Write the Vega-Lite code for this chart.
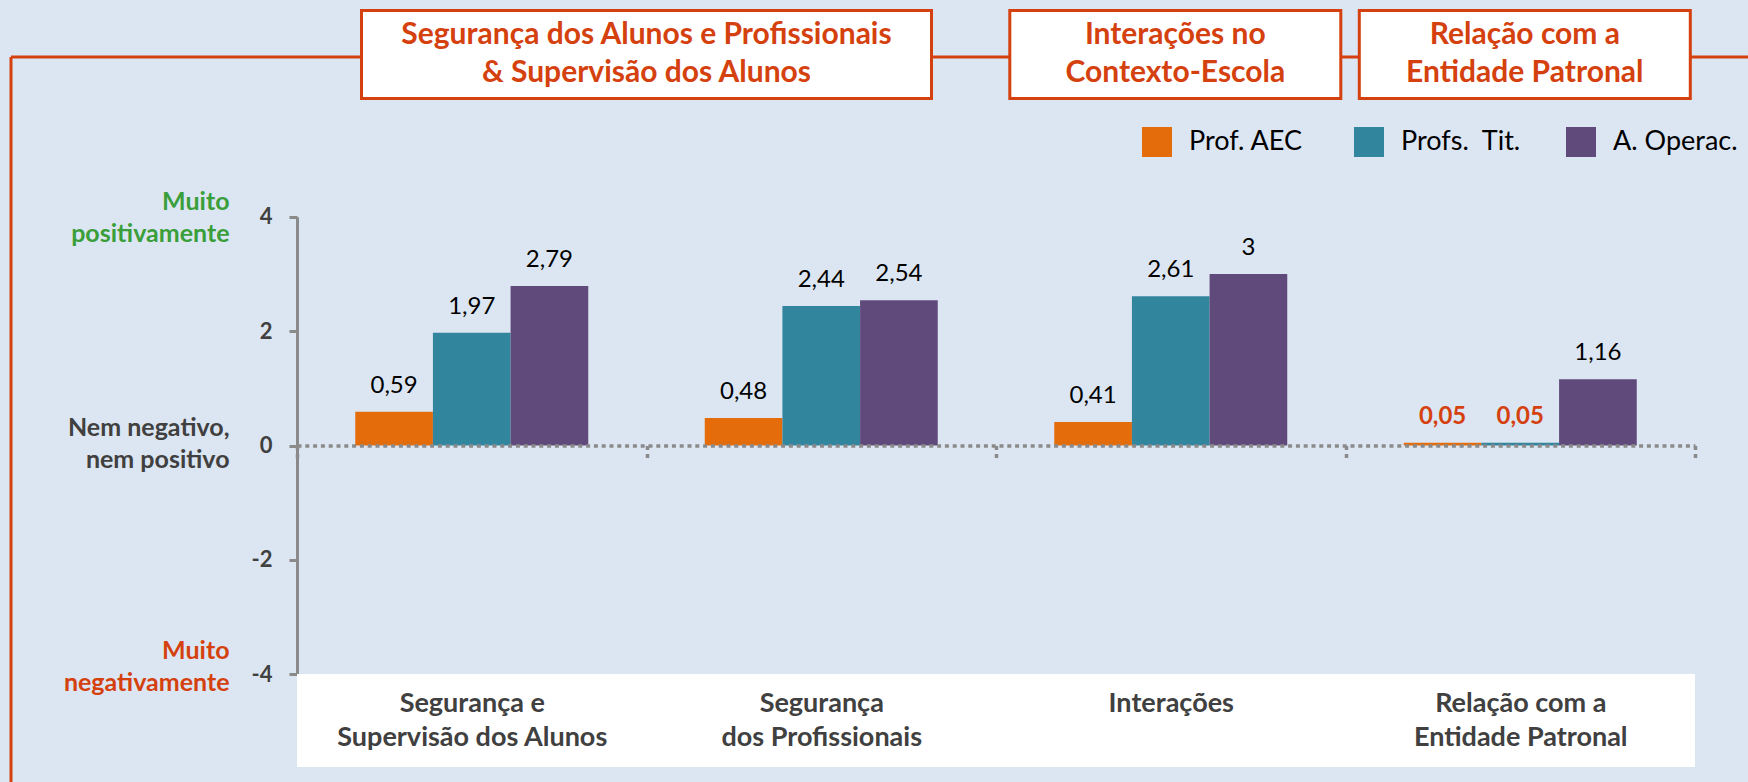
{
  "$schema": "https://vega.github.io/schema/vega-lite/v6.json",
  "width": 1737,
  "height": 725,
  "autosize": {"type": "none"},
  "padding": {"left": 11, "top": 57, "right": 0, "bottom": 0},
  "background": "#DCE6F2",
  "config": {
    "view": {"stroke": "#D5410E", "strokeWidth": 3, "strokeDash": [1737, 2462, 725, 0]},
    "locale": {"number": {"decimal": ",", "thousands": ".", "grouping": [3], "currency": ["", " €"], "minus": "-"}},
    "font": "Lato"
  },
  "datasets": {
    "main": [
      {"cat": "Segurança e\nSupervisão dos Alunos", "series": "Prof. AEC", "value": 0.59},
      {"cat": "Segurança e\nSupervisão dos Alunos", "series": "Profs.  Tit.", "value": 1.97},
      {"cat": "Segurança e\nSupervisão dos Alunos", "series": "A. Operac.", "value": 2.79},
      {"cat": "Segurança\ndos Profissionais", "series": "Prof. AEC", "value": 0.48},
      {"cat": "Segurança\ndos Profissionais", "series": "Profs.  Tit.", "value": 2.44},
      {"cat": "Segurança\ndos Profissionais", "series": "A. Operac.", "value": 2.54},
      {"cat": "Interações", "series": "Prof. AEC", "value": 0.41},
      {"cat": "Interações", "series": "Profs.  Tit.", "value": 2.61},
      {"cat": "Interações", "series": "A. Operac.", "value": 3},
      {"cat": "Relação com a\nEntidade Patronal", "series": "Prof. AEC", "value": 0.05},
      {"cat": "Relação com a\nEntidade Patronal", "series": "Profs.  Tit.", "value": 0.05},
      {"cat": "Relação com a\nEntidade Patronal", "series": "A. Operac.", "value": 1.16}
    ],
    "headers": [
      {"header": "Segurança dos Alunos e Profissionais\n& Supervisão dos Alunos", "anchor": "Segurança\ndos Profissionais", "span": "wide"},
      {"header": "Interações no\nContexto-Escola", "anchor": "Interações", "span": "single"},
      {"header": "Relação com a\nEntidade Patronal", "anchor": "Relação com a\nEntidade Patronal", "span": "single"}
    ]
  },
  "data": {"name": "main"},
  "resolve": {"axis": {"y": "independent"}},
  "layer": [
    {
      "mark": {"type": "rect", "fill": "#FFFFFF"},
      "encoding": {
        "x": {"field": "cat", "type": "nominal", "sort": null,
          "scale": {"domain": ["Segurança e\nSupervisão dos Alunos", "Segurança\ndos Profissionais", "Interações", "Relação com a\nEntidade Patronal"], "range": [286, 1684], "paddingInner": 0, "paddingOuter": 0},
          "axis": {"orient": "bottom", "offset": -336.5, "title": null, "labelExpr": "split(datum.label, '\\n')", "tickBand": "extent",
            "domainColor": "#8A8A8A", "domainWidth": 3.5, "domainDash": [4, 3.8], "tickColor": "#8A8A8A", "tickWidth": 3.5, "tickDash": [4, 4], "tickSize": 12,
            "labelPadding": 233, "labelAngle": 0, "labelFont": "Lato", "labelFontWeight": "bold", "labelFontSize": 27, "labelColor": "#404040",
            "labelLineHeight": 34, "labelBaseline": "top", "labelLimit": 500, "zindex": 1, "grid": false}},
        "y": {"datum": -4, "type": "quantitative", "axis": null, "scale": {"domain": [-4, 4], "range": [617.3, 159.7], "nice": false}},
        "y2": {"datum": -5.62}
      }
    },
    {
      "mark": {"type": "bar"},
      "encoding": {
        "x": {"field": "cat", "type": "nominal", "sort": null,
          "scale": {"domain": ["Segurança e\nSupervisão dos Alunos", "Segurança\ndos Profissionais", "Interações", "Relação com a\nEntidade Patronal"], "range": [286, 1684], "paddingInner": 0, "paddingOuter": 0}},
        "xOffset": {"field": "series", "type": "nominal", "sort": null, "scale": {"domain": ["Prof. AEC", "Profs.  Tit.", "A. Operac."], "paddingInner": 0, "paddingOuter": 0.75}},
        "y": {"field": "value", "type": "quantitative", "scale": {"domain": [-4, 4], "range": [617.3, 159.7], "nice": false},
          "axis": {"orient": "left", "offset": -286, "values": [-4, -2, 0, 2, 4], "format": "d", "title": null, "grid": false,
            "domainColor": "#8A8A8A", "domainWidth": 3, "tickColor": "#8A8A8A", "tickWidth": 3, "tickSize": 8, "labelPadding": 17,
            "labelFont": "Lato", "labelFontWeight": "bold", "labelFontSize": 22, "labelColor": "#404040", "labelBaseline": "middle"}},
        "color": {"field": "series", "type": "nominal", "sort": null,
          "scale": {"domain": ["Prof. AEC", "Profs.  Tit.", "A. Operac."], "range": ["#E46C0A", "#31859C", "#604A7B"]},
          "legend": {"orient": "none", "legendX": 1131, "legendY": 70, "direction": "horizontal", "title": null, "symbolType": "square",
            "symbolSize": 900, "symbolStrokeWidth": 0, "symbolOpacity": 1, "labelFontSize": 27, "labelFont": "Lato", "labelColor": "#000000",
            "labelOffset": 17, "columnPadding": 40, "gridAlign": "all", "padding": 0, "labelExpr": "replace(datum.label, '  ', '\u00a0 ')"}}
      }
    },
    {
      "transform": [{"filter": "datum.value >= 0.1"}],
      "mark": {"type": "text", "baseline": "alphabetic", "dy": -19, "fontSize": 24, "color": "#000000", "font": "Lato"},
      "encoding": {
        "x": {"field": "cat", "type": "nominal", "sort": null,
          "scale": {"domain": ["Segurança e\nSupervisão dos Alunos", "Segurança\ndos Profissionais", "Interações", "Relação com a\nEntidade Patronal"], "range": [286, 1684], "paddingInner": 0, "paddingOuter": 0}},
        "xOffset": {"field": "series", "type": "nominal", "sort": null, "scale": {"domain": ["Prof. AEC", "Profs.  Tit.", "A. Operac."], "paddingInner": 0, "paddingOuter": 0.75}},
        "y": {"field": "value", "type": "quantitative", "scale": {"domain": [-4, 4], "range": [617.3, 159.7], "nice": false},
          "axis": {"orient": "left", "offset": -286, "values": [-4, 0, 4], "title": null, "grid": false, "domain": false, "ticks": false, "tickSize": 0,
            "labelExpr": "datum.value > 0 ? ['Muito', 'positivamente'] : datum.value < 0 ? ['Muito', 'negativamente'] : ['Nem negativo,', 'nem positivo']",
            "labelPadding": 68, "labelFont": "Lato", "labelFontWeight": "bold", "labelFontSize": 25, "labelLineHeight": 32, "labelBaseline": "middle", "labelAlign": "right",
            "labelOffset": {"condition": [{"test": "datum.value > 0", "value": -15}, {"test": "datum.value < 0", "value": -24}], "value": -18},
            "labelColor": {"condition": [{"test": "datum.value > 0", "value": "#3A9E3A"}, {"test": "datum.value < 0", "value": "#D5410E"}], "value": "#404040"}}},
        "text": {"field": "value", "type": "quantitative", "format": "~g"}
      }
    },
    {
      "transform": [{"filter": "datum.value < 0.1"}],
      "mark": {"type": "text", "baseline": "alphabetic", "dy": -19, "fontSize": 24, "fontWeight": "bold", "color": "#D5410E", "font": "Lato"},
      "encoding": {
        "x": {"field": "cat", "type": "nominal", "sort": null,
          "scale": {"domain": ["Segurança e\nSupervisão dos Alunos", "Segurança\ndos Profissionais", "Interações", "Relação com a\nEntidade Patronal"], "range": [286, 1684], "paddingInner": 0, "paddingOuter": 0}},
        "xOffset": {"field": "series", "type": "nominal", "sort": null, "scale": {"domain": ["Prof. AEC", "Profs.  Tit.", "A. Operac."], "paddingInner": 0, "paddingOuter": 0.75}},
        "y": {"field": "value", "type": "quantitative", "axis": null, "scale": {"domain": [-4, 4], "range": [617.3, 159.7], "nice": false}},
        "text": {"field": "value", "type": "quantitative", "format": "~g"}
      }
    },
    {
      "data": {"name": "headers"},
      "transform": [{"filter": "datum.span == 'wide'"}],
      "mark": {"type": "point", "shape": "M-1,-0.1544L1,-0.1544L1,0.1544L-1,0.1544Z", "size": 324900, "filled": true, "fill": "#FFFFFF", "stroke": "#D5410E", "strokeWidth": 3, "opacity": 1},
      "encoding": {
        "x": {"field": "anchor", "type": "nominal", "bandPosition": 0,
          "scale": {"domain": ["Segurança e\nSupervisão dos Alunos", "Segurança\ndos Profissionais", "Interações", "Relação com a\nEntidade Patronal"], "range": [286, 1684], "paddingInner": 0, "paddingOuter": 0}},
        "y": {"datum": 6.836, "type": "quantitative", "axis": null, "scale": {"domain": [-4, 4], "range": [617.3, 159.7], "nice": false}}
      }
    },
    {
      "data": {"name": "headers"},
      "transform": [{"filter": "datum.span == 'wide'"}],
      "mark": {"type": "text", "lineBreak": "\n", "fontSize": 30, "fontWeight": "bold", "color": "#D5410E", "baseline": "middle", "align": "center", "lineHeight": 38, "dy": -19, "font": "Lato"},
      "encoding": {
        "x": {"field": "anchor", "type": "nominal", "bandPosition": 0,
          "scale": {"domain": ["Segurança e\nSupervisão dos Alunos", "Segurança\ndos Profissionais", "Interações", "Relação com a\nEntidade Patronal"], "range": [286, 1684], "paddingInner": 0, "paddingOuter": 0}},
        "y": {"datum": 6.836, "type": "quantitative", "axis": null, "scale": {"domain": [-4, 4], "range": [617.3, 159.7], "nice": false}},
        "text": {"field": "header", "type": "nominal"}
      }
    },
    {
      "data": {"name": "headers"},
      "transform": [{"filter": "datum.span == 'single'"}],
      "mark": {"type": "point", "shape": "M-1,-0.2659L1,-0.2659L1,0.2659L-1,0.2659Z", "size": 109561, "filled": true, "fill": "#FFFFFF", "stroke": "#D5410E", "strokeWidth": 3, "opacity": 1},
      "encoding": {
        "x": {"field": "anchor", "type": "nominal", "bandPosition": 0.513,
          "scale": {"domain": ["Segurança e\nSupervisão dos Alunos", "Segurança\ndos Profissionais", "Interações", "Relação com a\nEntidade Patronal"], "range": [286, 1684], "paddingInner": 0, "paddingOuter": 0}},
        "y": {"datum": 6.836, "type": "quantitative", "axis": null, "scale": {"domain": [-4, 4], "range": [617.3, 159.7], "nice": false}}
      }
    },
    {
      "data": {"name": "headers"},
      "transform": [{"filter": "datum.span == 'single'"}],
      "mark": {"type": "text", "lineBreak": "\n", "fontSize": 30, "fontWeight": "bold", "color": "#D5410E", "baseline": "middle", "align": "center", "lineHeight": 38, "dy": -19, "font": "Lato"},
      "encoding": {
        "x": {"field": "anchor", "type": "nominal", "bandPosition": 0.513,
          "scale": {"domain": ["Segurança e\nSupervisão dos Alunos", "Segurança\ndos Profissionais", "Interações", "Relação com a\nEntidade Patronal"], "range": [286, 1684], "paddingInner": 0, "paddingOuter": 0}},
        "y": {"datum": 6.836, "type": "quantitative", "axis": null, "scale": {"domain": [-4, 4], "range": [617.3, 159.7], "nice": false}},
        "text": {"field": "header", "type": "nominal"}
      }
    }
  ]
}
